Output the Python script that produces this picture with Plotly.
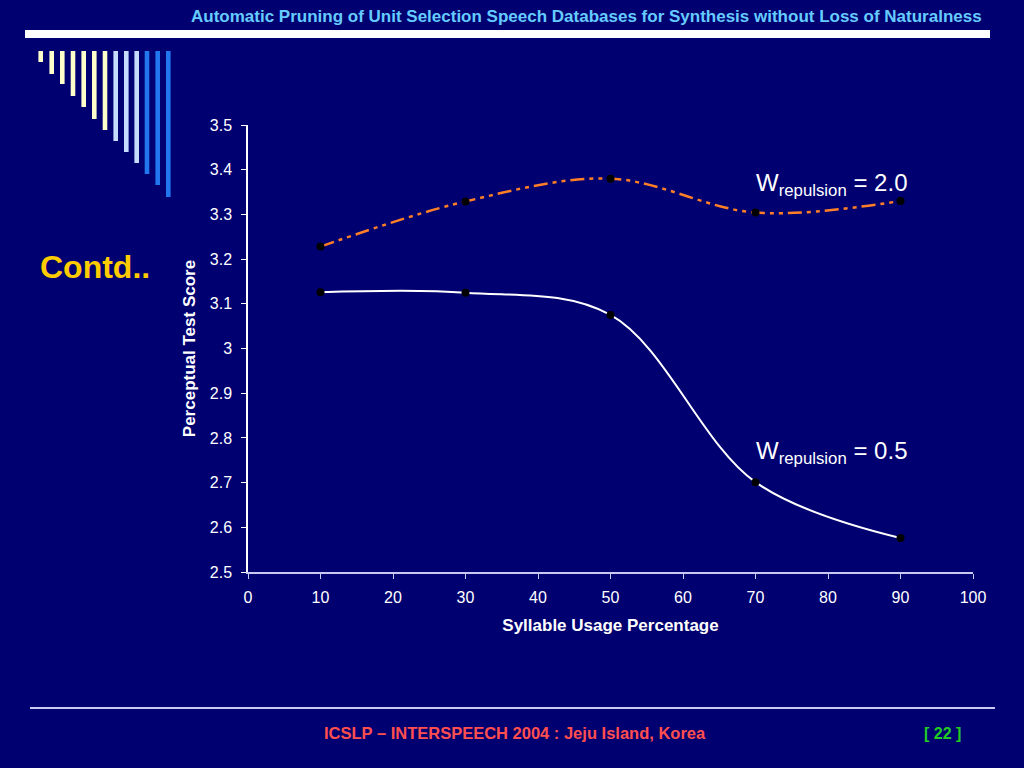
import plotly.graph_objects as go

# data
usage = [10, 30, 50, 70, 90]
score_w20 = [3.228, 3.329, 3.380, 3.304, 3.330]
score_w05 = [3.126, 3.125, 3.075, 2.701, 2.576]

x_ticks = [0, 10, 20, 30, 40, 50, 60, 70, 80, 90, 100]
y_ticks = [2.5, 2.6, 2.7, 2.8, 2.9, 3.0, 3.1, 3.2, 3.3, 3.4, 3.5]
y_tick_text = ["2.5", "2.6", "2.7", "2.8", "2.9", "3", "3.1", "3.2", "3.3", "3.4", "3.5"]

bg = "#000070"
W, H = 1024, 768
FONT = "Liberation Sans, Arial"

fig = go.Figure()

fig.add_trace(go.Scatter(
    x=usage, y=score_w20, mode="lines+markers",
    line=dict(color="#FF7F27", width=2.5, dash="14px,5px,4px,5px,4px,5px",
              shape="spline", smoothing=1),
    marker=dict(color="black", size=8),
))
fig.add_trace(go.Scatter(
    x=usage, y=score_w05, mode="lines+markers",
    line=dict(color="white", width=2, shape="spline", smoothing=1),
    marker=dict(color="black", size=8),
))


# pixel -> paper coords (plot area is 248..973 x 125..572)
def px(x):
    return (x - 248) / 725


def py(y):
    return (572 - y) / 447


# slide decoration: triangle of bars top left
bar_x = [40.7, 51.7, 62.3, 73, 83.7, 94.3, 105, 115.7, 126.3, 136.7, 147, 157.7, 168.3]
bar_bottom = [62, 74, 84, 96, 107, 119, 130, 141, 152, 163, 174, 185, 197]
bar_col = ["#FFFFCC"] * 7 + ["#C6DCFF"] * 3 + ["#2277EE"] * 3

shapes = []
for bx, bb, bc in zip(bar_x, bar_bottom, bar_col):
    shapes.append(dict(type="rect", xref="paper", yref="paper",
                       x0=px(bx - 2.3), x1=px(bx + 2.3), y0=py(bb), y1=py(51),
                       fillcolor=bc, line=dict(width=0), layer="above"))
# white header bar
shapes.append(dict(type="rect", xref="paper", yref="paper",
                   x0=px(25), x1=px(990), y0=py(38), y1=py(30),
                   fillcolor="white", line=dict(width=0)))
# footer rule
shapes.append(dict(type="line", xref="paper", yref="paper",
                   x0=px(30), x1=px(995), y0=py(708), y1=py(708),
                   line=dict(color="#C8C8F0", width=2)))

annotations = [
    dict(text="<b>Automatic Pruning of Unit Selection Speech Databases for Synthesis without Loss of Naturalness</b>",
         xref="paper", yref="paper", x=px(984), y=py(16), xanchor="right", yanchor="middle",
         showarrow=False, font=dict(color="#66CCFF", size=17, family=FONT)),
    dict(text="<b>Contd..</b>", xref="paper", yref="paper", x=px(38), y=py(267),
         xanchor="left", yanchor="middle", showarrow=False,
         font=dict(color="#FFCC00", size=32, family=FONT)),
    dict(text="<b>ICSLP – INTERSPEECH 2004 : Jeju Island, Korea</b>", xref="paper", yref="paper",
         x=px(515), y=py(733), xanchor="center", yanchor="middle", showarrow=False,
         font=dict(color="#FF4F4F", size=16.5, family=FONT)),
    dict(text="<b>[ 22 ]</b>", xref="paper", yref="paper", x=px(942), y=py(733),
         xanchor="center", yanchor="middle", showarrow=False,
         font=dict(color="#22CC22", size=16, family=FONT)),
    dict(text="W<sub>repulsion</sub> = 2.0", x=69.8, y=3.368, xanchor="left", yanchor="middle",
         showarrow=False, font=dict(color="white", size=24, family=FONT)),
    dict(text="W<sub>repulsion</sub> = 0.5", x=69.8, y=2.768, xanchor="left", yanchor="middle",
         showarrow=False, font=dict(color="white", size=24, family=FONT)),
]

fig.update_layout(
    width=W, height=H,
    paper_bgcolor=bg, plot_bgcolor=bg,
    margin=dict(l=248, r=51, t=125, b=196),
    showlegend=False,
    font=dict(family=FONT, color="white", size=15),
    shapes=shapes,
    annotations=annotations,
    xaxis=dict(range=[0, 100], tickvals=x_ticks, ticks="outside", ticklen=5,
               tickcolor="#C8C8F0", linecolor="#C8C8F0", linewidth=1.5, showline=True,
               showgrid=False, zeroline=False, tickfont=dict(size=16), ticklabelstandoff=5,
               title=dict(text="<b>Syllable Usage Percentage</b>", font=dict(size=17), standoff=14)),
    yaxis=dict(range=[2.5, 3.5], tickvals=y_ticks, ticktext=y_tick_text, ticks="outside",
               ticklen=5, tickcolor="white", linecolor="white", linewidth=1.5, showline=True,
               showgrid=False, zeroline=False, tickfont=dict(size=16), ticklabelstandoff=6,
               title=dict(text="<b>Perceptual Test Score</b>", font=dict(size=17), standoff=10)),
)

fig.write_html("out.html", config={"displayModeBar": False},
               post_script="document.body.style.margin='0';document.body.style.background='#000070';")
